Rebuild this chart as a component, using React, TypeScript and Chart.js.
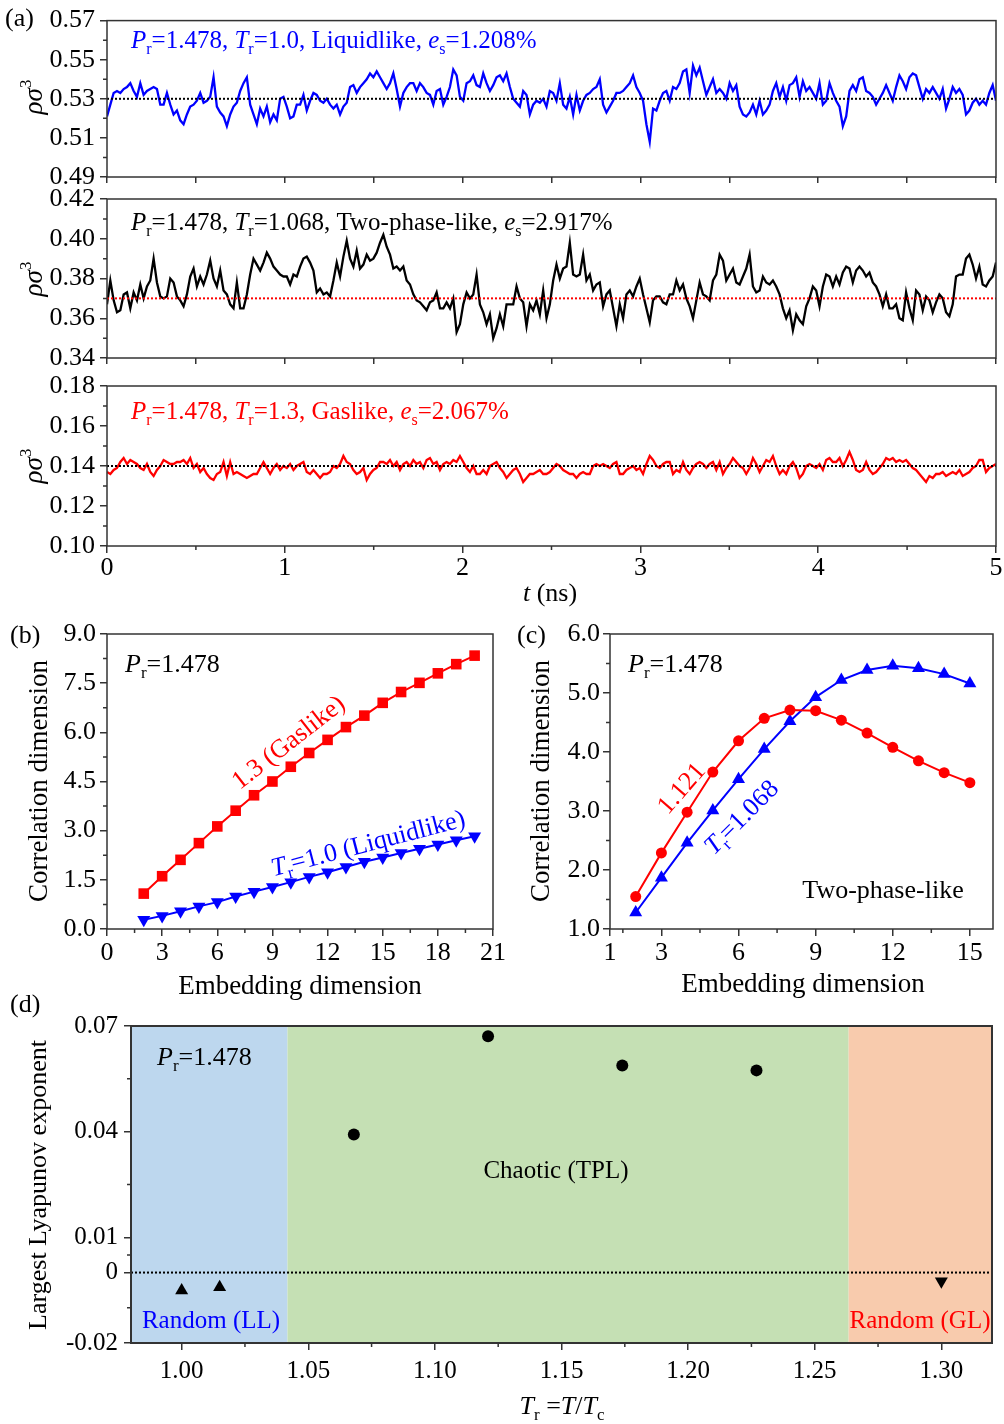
import { useEffect, useRef } from "react";
import { Chart, registerables } from "chart.js";
Chart.register(...registerables);

const W = 1004;
const H = 1424;
const SERIF = '"Liberation Serif", "Times New Roman", Times, serif';
const AXIS = "#333333";
const BLUE = "#0000ff";
const RED = "#ff0000";
const BLACK = "#000000";

// ---------- (a) density time series, t from 0 to 5 ns ----------
const T_END = 5;
const liquidRho = [
  0.521,0.527,0.533,0.534,0.533,0.535,0.536,0.538,0.534,0.531,
  0.538,0.532,0.534,0.535,0.536,0.535,0.527,0.527,0.533,0.527,
  0.522,0.524,0.519,0.517,0.522,0.526,0.527,0.529,0.533,0.528,
  0.529,0.531,0.541,0.526,0.523,0.521,0.516,0.522,0.526,0.528,
  0.534,0.538,0.541,0.527,0.522,0.517,0.525,0.521,0.526,0.518,
  0.522,0.519,0.530,0.531,0.526,0.520,0.521,0.527,0.527,0.532,
  0.524,0.529,0.533,0.532,0.529,0.528,0.530,0.527,0.525,0.527,
  0.522,0.526,0.528,0.536,0.537,0.533,0.536,0.538,0.540,0.543,
  0.541,0.544,0.541,0.538,0.535,0.538,0.543,0.535,0.526,0.533,
  0.536,0.538,0.538,0.534,0.538,0.536,0.533,0.532,0.527,0.534,
  0.535,0.527,0.531,0.536,0.545,0.542,0.531,0.529,0.538,0.539,
  0.542,0.537,0.536,0.543,0.538,0.534,0.537,0.541,0.542,0.539,
  0.543,0.536,0.530,0.528,0.526,0.534,0.532,0.522,0.527,0.529,
  0.528,0.530,0.526,0.534,
  0.533,0.529,0.538,0.527,0.525,0.531,0.522,0.532,0.524,0.529,
  0.532,0.533,0.535,0.536,0.540,0.527,0.523,0.526,0.529,0.533,
  0.533,0.534,0.536,0.538,0.542,0.536,0.533,0.529,0.517,0.508,
  0.525,0.524,0.529,0.533,0.534,0.529,0.536,0.535,0.538,0.544,
  0.545,0.533,0.547,0.542,0.546,0.539,0.532,0.536,0.540,0.533,
  0.535,0.533,0.530,0.538,0.534,0.537,0.526,0.522,0.521,0.523,
  0.527,0.522,0.529,0.522,0.524,0.527,0.534,0.538,0.531,0.536,
  0.529,0.537,0.538,0.541,0.531,0.539,0.534,0.536,0.533,0.530,
  0.538,0.527,0.529,0.538,0.533,0.529,0.526,0.516,0.521,0.534,
  0.537,0.534,0.540,0.541,0.534,0.533,0.531,0.527,0.530,0.533,
  0.537,0.533,0.529,0.536,0.542,0.539,0.535,0.541,0.543,0.542,
  0.536,0.530,0.535,0.533,0.536,0.533,0.530,0.535,0.525,0.530,
  0.536,0.533,0.535,0.532,0.522,0.524,0.528,0.530,0.527,0.529,
  0.527,0.533,0.537,0.529,
];
const twoPhaseRho = [
  0.367,0.379,0.369,0.363,0.364,0.372,0.373,0.365,0.373,0.369,
  0.377,0.370,0.376,0.379,0.390,0.378,0.371,0.370,0.371,0.380,
  0.378,0.371,0.369,0.366,0.372,0.381,0.385,0.376,0.381,0.377,
  0.382,0.389,0.380,0.376,0.384,0.374,0.372,0.367,0.365,0.378,
  0.365,0.365,0.372,0.382,0.390,0.387,0.384,0.388,0.393,0.390,
  0.386,0.384,0.382,0.381,0.381,0.377,0.382,0.381,0.386,0.390,
  0.391,0.388,0.384,0.373,0.375,0.372,0.373,0.371,0.379,0.388,
  0.381,0.391,0.399,0.390,0.386,0.394,0.385,0.387,0.392,0.389,
  0.390,0.393,0.398,0.402,0.396,0.392,0.385,0.386,0.384,0.386,
  0.379,0.377,0.372,0.369,0.368,0.366,0.364,0.368,0.369,0.373,
  0.365,0.365,0.368,0.365,0.370,0.353,0.357,0.367,0.373,0.370,
  0.372,0.382,0.367,0.363,0.357,0.362,0.350,0.355,0.362,0.356,
  0.367,0.367,0.367,0.376,0.370,0.368,0.356,0.367,0.364,0.369,
  0.362,0.374,0.360,0.367,
  0.379,0.387,0.380,0.385,0.386,0.398,0.382,0.381,0.382,0.392,
  0.379,0.382,0.374,0.377,0.378,0.366,0.372,0.374,0.365,0.356,
  0.367,0.360,0.372,0.374,0.371,0.376,0.380,0.372,0.365,0.358,
  0.369,0.371,0.371,0.368,0.367,0.372,0.372,0.379,0.374,0.377,
  0.370,0.366,0.360,0.369,0.378,0.372,0.371,0.369,0.379,0.382,
  0.392,0.389,0.379,0.382,0.385,0.378,0.377,0.381,0.385,0.392,
  0.376,0.373,0.374,0.381,0.378,0.377,0.379,0.376,0.372,0.365,
  0.360,0.364,0.354,0.362,0.359,0.357,0.366,0.370,0.376,0.374,
  0.366,0.376,0.382,0.381,0.376,0.381,0.377,0.383,0.386,0.385,
  0.378,0.384,0.386,0.384,0.381,0.383,0.378,0.376,0.372,0.366,
  0.372,0.365,0.365,0.367,0.360,0.359,0.373,0.365,0.359,0.374,
  0.372,0.364,0.371,0.369,0.363,0.368,0.372,0.370,0.363,0.361,
  0.367,0.381,0.382,0.382,0.390,0.392,0.387,0.380,0.386,0.377,
  0.376,0.379,0.381,0.388,
];
const gasRho = [
  0.137,0.136,0.138,0.139,0.142,0.144,0.141,0.143,0.142,0.141,
  0.139,0.138,0.141,0.137,0.135,0.138,0.140,0.143,0.142,0.141,
  0.141,0.142,0.142,0.143,0.141,0.144,0.139,0.141,0.137,0.139,
  0.136,0.134,0.133,0.136,0.137,0.142,0.135,0.142,0.136,0.137,
  0.136,0.135,0.134,0.135,0.136,0.136,0.139,0.142,0.139,0.136,
  0.139,0.141,0.138,0.140,0.139,0.141,0.138,0.140,0.141,0.142,
  0.137,0.136,0.138,0.136,0.134,0.136,0.136,0.137,0.140,0.139,
  0.141,0.145,0.142,0.141,0.138,0.136,0.137,0.139,0.133,0.136,
  0.138,0.139,0.142,0.142,0.141,0.143,0.140,0.142,0.138,0.141,
  0.142,0.140,0.143,0.141,0.142,0.139,0.143,0.144,0.141,0.142,
  0.138,0.141,0.142,0.141,0.143,0.142,0.145,0.142,0.139,0.137,
  0.140,0.136,0.136,0.138,0.136,0.140,0.141,0.142,0.139,0.137,
  0.134,0.136,0.138,0.139,0.136,0.132,0.134,0.136,0.136,0.137,
  0.138,0.136,0.136,0.137,
  0.139,0.141,0.140,0.138,0.137,0.136,0.136,0.134,0.136,0.137,
  0.136,0.136,0.140,0.141,0.140,0.141,0.140,0.139,0.141,0.142,
  0.136,0.136,0.138,0.139,0.140,0.138,0.139,0.136,0.141,0.145,
  0.143,0.140,0.139,0.141,0.142,0.142,0.136,0.138,0.137,0.142,
  0.138,0.136,0.139,0.141,0.142,0.141,0.139,0.141,0.142,0.138,
  0.142,0.136,0.139,0.141,0.144,0.142,0.140,0.139,0.136,0.139,
  0.144,0.141,0.137,0.140,0.143,0.142,0.145,0.140,0.136,0.138,
  0.136,0.140,0.142,0.139,0.134,0.136,0.140,0.141,0.140,0.139,
  0.141,0.138,0.143,0.144,0.142,0.142,0.144,0.140,0.143,0.147,
  0.143,0.138,0.137,0.138,0.142,0.138,0.136,0.137,0.139,0.141,
  0.144,0.143,0.144,0.142,0.143,0.142,0.143,0.141,0.139,0.138,
  0.136,0.134,0.132,0.135,0.134,0.136,0.136,0.137,0.135,0.136,
  0.137,0.136,0.138,0.135,0.136,0.137,0.139,0.140,0.143,0.143,
  0.137,0.139,0.140,0.141,
];
const liquidMean = 0.53;
const twoPhaseMean = 0.37;
const gasMean = 0.14;

const rhoTicksLiquid = [0.49, 0.51, 0.53, 0.55, 0.57];
const rhoMinorLiquid = [0.5, 0.52, 0.54, 0.56];
const rhoTicksTwoPhase = [0.34, 0.36, 0.38, 0.4, 0.42];
const rhoMinorTwoPhase = [0.35, 0.37, 0.39, 0.41];
const rhoTicksGas = [0.1, 0.12, 0.14, 0.16, 0.18];
const rhoMinorGas = [0.11, 0.13, 0.15, 0.17];
const timeTicks = [0, 1, 2, 3, 4, 5];
const timeHalfTicks = [0, 0.5, 1, 1.5, 2, 2.5, 3, 3.5, 4, 4.5, 5];
const timeMinor = [0.5, 1.5, 2.5, 3.5, 4.5];

// ---------- (b) correlation dimension ----------
const embedB = [2, 3, 4, 5, 6, 7, 8, 9, 10, 11, 12, 13, 14, 15, 16, 17, 18, 19, 20];
const gasCorrDim = [1.08, 1.61, 2.11, 2.62, 3.13, 3.61, 4.08, 4.5, 4.95, 5.37, 5.77, 6.16, 6.51, 6.9, 7.23, 7.51, 7.8, 8.08, 8.34];
const liquidCorrDim = [0.28, 0.4, 0.54, 0.69, 0.82, 0.99, 1.14, 1.28, 1.43, 1.59, 1.73, 1.89, 2.05, 2.18, 2.32, 2.45, 2.58, 2.71, 2.83];
const embedTicksB = [0, 3, 6, 9, 12, 15, 18, 21];
const embedMinorB = [1.5, 4.5, 7.5, 10.5, 13.5, 16.5, 19.5];
const corrTicksB = [0, 1.5, 3, 4.5, 6, 7.5, 9];
const corrMinorB = [0.75, 2.25, 3.75, 5.25, 6.75, 8.25];

// ---------- (c) correlation dimension, two-phase-like ----------
const embedC = [2, 3, 4, 5, 6, 7, 8, 9, 10, 11, 12, 13, 14, 15];
const corrDim1121 = [1.55, 2.29, 2.98, 3.66, 4.19, 4.57, 4.71, 4.7, 4.54, 4.32, 4.08, 3.85, 3.65, 3.48];
const corrDim1068 = [1.28, 1.87, 2.46, 3.01, 3.54, 4.05, 4.52, 4.93, 5.22, 5.39, 5.46, 5.42, 5.32, 5.16];
const embedTicksC = [1, 3, 6, 9, 12, 15];
const embedMinorC = [1.5, 4.5, 7.5, 10.5, 13.5];
const corrTicksC = [1, 2, 3, 4, 5, 6];
const corrMinorC = [1.5, 2.5, 3.5, 4.5, 5.5];

// ---------- (d) largest Lyapunov exponent ----------
const trChaotic = [1.068, 1.121, 1.174, 1.227];
const lyapChaotic = [0.0392, 0.0671, 0.0588, 0.0574];
const trLiquid = [1.0, 1.015];
const lyapLiquid = [-0.0051, -0.0042];
const trGas = [1.3];
const lyapGas = [-0.0025];
const regionEdges = [0.98, 1.0418, 1.2634, 1.32];
const regionColors = ["#bdd7ee", "#c5e0b4", "#f8cbad"];
const trTicks = [1.0, 1.05, 1.1, 1.15, 1.2, 1.25, 1.3];
const trMinor = [1.025, 1.075, 1.125, 1.175, 1.225, 1.275];
const lyapTicks = [-0.02, 0, 0.01, 0.04, 0.07];
const lyapMinor = [-0.01, 0.005, 0.025, 0.055];

// ---------- helpers ----------
type Seg = { t: string; i?: boolean; sub?: boolean; sup?: boolean };
type TextItem = {
  segs: Seg[];
  x: number;
  y: number;
  size: number;
  color?: string;
  align?: "left" | "center" | "right";
  angle?: number;
  mid?: boolean;
};

function drawRich(ctx: CanvasRenderingContext2D, it: TextItem) {
  const size = it.size;
  const small = Math.round(size * 0.64);
  const fontOf = (s: Seg) => `${s.i ? "italic " : ""}${s.sub || s.sup ? small : size}px ${SERIF}`;
  ctx.save();
  ctx.translate(it.x, it.y);
  if (it.angle) ctx.rotate((-it.angle * Math.PI) / 180);
  ctx.fillStyle = it.color ?? BLACK;
  ctx.textBaseline = "alphabetic";
  ctx.textAlign = "left";
  const widths = it.segs.map((s) => {
    ctx.font = fontOf(s);
    return ctx.measureText(s.t).width;
  });
  const total = widths.reduce((a, b) => a + b, 0);
  let cx = it.align === "center" ? -total / 2 : it.align === "right" ? -total : 0;
  const base = it.mid ? size * 0.32 : 0;
  it.segs.forEach((s, k) => {
    ctx.font = fontOf(s);
    const dy = s.sub ? size * 0.24 : s.sup ? -size * 0.4 : 0;
    ctx.fillText(s.t, cx, base + dy);
    cx += widths[k];
  });
  ctx.restore();
}

type AxisSpec = {
  min: number;
  max: number;
  ticks: number[];
  minor: number[];
  labels: boolean;
  fmt?: (v: number) => string;
  size?: number;
  pad?: number;
};
type PanelSpec = {
  box: { l: number; t: number; r: number; b: number };
  x: AxisSpec;
  y: AxisSpec;
  datasets: any[];
  texts: TextItem[];
  bands?: { from: number; to: number; color: string }[];
  frame?: number;
};

const series = (vals: number[]) => vals.map((v, i) => ({ x: (i * T_END) / (vals.length - 1), y: v }));
const pairs = (xs: number[], ys: number[]) => xs.map((x, i) => ({ x, y: ys[i] }));
const hline = (y: number, x0: number, x1: number) => [
  { x: x0, y },
  { x: x1, y },
];

const lineSet = (data: any[], color: string) => ({
  data,
  borderColor: color,
  borderWidth: 2.3,
  pointRadius: 0,
  fill: false,
  order: 2,
});
const dotSet = (data: any[], color: string) => ({
  data,
  borderColor: color,
  borderWidth: 2,
  borderDash: [2, 2],
  pointRadius: 0,
  fill: false,
  order: 1,
});

const PR = (x: number, y: number, size: number): TextItem => ({
  segs: [{ t: "P", i: true }, { t: "r", sub: true }, { t: "=1.478" }],
  x,
  y,
  size,
});

const rhoTitle = (cy: number): TextItem => ({
  segs: [{ t: "ρσ", i: true }, { t: "3", sup: true }],
  x: 33,
  y: cy,
  size: 27,
  align: "center",
  angle: 90,
  mid: true,
});

const f2 = (v: number) => v.toFixed(2);
const f1 = (v: number) => v.toFixed(1);
const f0 = (v: number) => String(Math.round(v));

const PANELS: PanelSpec[] = [
  {
    box: { l: 107, t: 18, r: 996, b: 177 },
    x: { min: 0, max: T_END, ticks: timeHalfTicks, minor: [], labels: false },
    y: { min: 0.49, max: 0.57, ticks: rhoTicksLiquid, minor: rhoMinorLiquid, labels: true, fmt: f2, size: 26, pad: 5 },
    datasets: [lineSet(series(liquidRho), BLUE), dotSet(hline(liquidMean, 0, T_END), BLACK)],
    texts: [
      { segs: [{ t: "(a)" }], x: 5, y: 26, size: 26 },
      {
        segs: [
          { t: "P", i: true }, { t: "r", sub: true }, { t: "=1.478, " },
          { t: "T", i: true }, { t: "r", sub: true }, { t: "=1.0, Liquidlike, " },
          { t: "e", i: true }, { t: "s", sub: true }, { t: "=1.208%" },
        ],
        x: 131, y: 48, size: 25, color: BLUE,
      },
      rhoTitle(97),
    ],
  },
  {
    box: { l: 107, t: 199, r: 996, b: 358 },
    x: { min: 0, max: T_END, ticks: timeHalfTicks, minor: [], labels: false },
    y: { min: 0.34, max: 0.42, ticks: rhoTicksTwoPhase, minor: rhoMinorTwoPhase, labels: true, fmt: f2, size: 26, pad: 5 },
    datasets: [lineSet(series(twoPhaseRho), BLACK), dotSet(hline(twoPhaseMean, 0, T_END), RED)],
    texts: [
      {
        segs: [
          { t: "P", i: true }, { t: "r", sub: true }, { t: "=1.478, " },
          { t: "T", i: true }, { t: "r", sub: true }, { t: "=1.068, Two-phase-like, " },
          { t: "e", i: true }, { t: "s", sub: true }, { t: "=2.917%" },
        ],
        x: 131, y: 230, size: 25, color: BLACK,
      },
      rhoTitle(279),
    ],
  },
  {
    box: { l: 107, t: 386, r: 996, b: 546 },
    x: { min: 0, max: T_END, ticks: timeTicks, minor: timeMinor, labels: true, fmt: f0, size: 26, pad: 0 },
    y: { min: 0.1, max: 0.18, ticks: rhoTicksGas, minor: rhoMinorGas, labels: true, fmt: f2, size: 26, pad: 5 },
    datasets: [lineSet(series(gasRho), RED), dotSet(hline(gasMean, 0, T_END), BLACK)],
    texts: [
      {
        segs: [
          { t: "P", i: true }, { t: "r", sub: true }, { t: "=1.478, " },
          { t: "T", i: true }, { t: "r", sub: true }, { t: "=1.3, Gaslike, " },
          { t: "e", i: true }, { t: "s", sub: true }, { t: "=2.067%" },
        ],
        x: 131, y: 419, size: 25, color: RED,
      },
      rhoTitle(466),
      { segs: [{ t: "t", i: true }, { t: " (ns)" }], x: 550, y: 601, size: 26, align: "center" },
    ],
  },
  {
    box: { l: 107, t: 634, r: 493, b: 929 },
    x: { min: 0, max: 21, ticks: embedTicksB, minor: embedMinorB, labels: true, fmt: f0, size: 26, pad: 2 },
    y: { min: 0, max: 9, ticks: corrTicksB, minor: corrMinorB, labels: true, fmt: f1, size: 26, pad: 4 },
    datasets: [
      {
        data: pairs(embedB, gasCorrDim),
        borderColor: RED, borderWidth: 2, pointStyle: "rect", pointRadius: 7.5,
        pointBackgroundColor: RED, pointBorderColor: RED, pointBorderWidth: 0,
      },
      {
        data: pairs(embedB, liquidCorrDim),
        borderColor: BLUE, borderWidth: 2, pointStyle: "triangle", pointRotation: 180, pointRadius: 7.5,
        pointBackgroundColor: BLUE, pointBorderColor: BLUE, pointBorderWidth: 0,
      },
    ],
    texts: [
      { segs: [{ t: "(b)" }], x: 10, y: 643, size: 26 },
      PR(125, 672, 26),
      { segs: [{ t: "1.3 (Gaslike)" }], x: 288, y: 742, size: 26, color: RED, align: "center", angle: 38, mid: true },
      {
        segs: [{ t: "T", i: true }, { t: "r", sub: true }, { t: "=1.0 (Liquidlike)" }],
        x: 368, y: 843, size: 26, color: BLUE, align: "center", angle: 14.6, mid: true,
      },
      { segs: [{ t: "Embedding dimension" }], x: 300, y: 994, size: 27, align: "center" },
      { segs: [{ t: "Correlation dimension" }], x: 38, y: 781, size: 27, align: "center", angle: 90, mid: true },
    ],
  },
  {
    box: { l: 610, t: 634, r: 993, b: 929 },
    x: { min: 1, max: 15.9, ticks: embedTicksC, minor: embedMinorC, labels: true, fmt: f0, size: 26, pad: 2 },
    y: { min: 1, max: 6, ticks: corrTicksC, minor: corrMinorC, labels: true, fmt: f1, size: 26, pad: 3 },
    datasets: [
      {
        data: pairs(embedC, corrDim1121),
        borderColor: RED, borderWidth: 2, pointStyle: "circle", pointRadius: 5.5,
        pointBackgroundColor: RED, pointBorderColor: RED, pointBorderWidth: 0,
      },
      {
        data: pairs(embedC, corrDim1068),
        borderColor: BLUE, borderWidth: 2, pointStyle: "triangle", pointRadius: 7.5,
        pointBackgroundColor: BLUE, pointBorderColor: BLUE, pointBorderWidth: 0,
      },
    ],
    texts: [
      { segs: [{ t: "(c)" }], x: 517, y: 643, size: 26 },
      PR(628, 672, 26),
      { segs: [{ t: "Two-phase-like" }], x: 883, y: 898, size: 26, align: "center" },
      { segs: [{ t: "1.121" }], x: 681, y: 788, size: 26, color: RED, align: "center", angle: 49, mid: true },
      {
        segs: [{ t: "T", i: true }, { t: "r", sub: true }, { t: "=1.068" }],
        x: 741, y: 817, size: 26, color: BLUE, align: "center", angle: 45, mid: true,
      },
      { segs: [{ t: "Embedding dimension" }], x: 803, y: 992, size: 27, align: "center" },
      { segs: [{ t: "Correlation dimension" }], x: 540, y: 781, size: 27, align: "center", angle: 90, mid: true },
    ],
  },
  {
    box: { l: 131, t: 1026, r: 992, b: 1343 },
    x: { min: 0.98, max: 1.32, ticks: trTicks, minor: trMinor, labels: true, fmt: f2, size: 25, pad: 6 },
    y: {
      min: -0.02, max: 0.07, ticks: lyapTicks, minor: lyapMinor, labels: true,
      fmt: (v) => (Math.abs(v) < 1e-9 ? "0" : v.toFixed(2)), size: 25, pad: 6,
    },
    bands: [
      { from: regionEdges[0], to: regionEdges[1], color: regionColors[0] },
      { from: regionEdges[1], to: regionEdges[2], color: regionColors[1] },
      { from: regionEdges[2], to: regionEdges[3], color: regionColors[2] },
    ],
    frame: 2,
    datasets: [
      dotSet(hline(0, 0.98, 1.32), BLACK),
      {
        data: pairs(trChaotic, lyapChaotic), showLine: false, pointStyle: "circle", pointRadius: 6,
        pointBackgroundColor: BLACK, pointBorderColor: BLACK, pointBorderWidth: 0, order: 0,
      },
      {
        data: pairs(trLiquid, lyapLiquid), showLine: false, pointStyle: "triangle", pointRadius: 7.5,
        pointBackgroundColor: BLACK, pointBorderColor: BLACK, pointBorderWidth: 0, order: 0,
      },
      {
        data: pairs(trGas, lyapGas), showLine: false, pointStyle: "triangle", pointRotation: 180, pointRadius: 7.5,
        pointBackgroundColor: BLACK, pointBorderColor: BLACK, pointBorderWidth: 0, order: 0,
      },
    ],
    texts: [
      { segs: [{ t: "(d)" }], x: 10, y: 1012, size: 26 },
      PR(157, 1065, 26),
      { segs: [{ t: "Chaotic (TPL)" }], x: 556, y: 1178, size: 25, align: "center" },
      { segs: [{ t: "Random (LL)" }], x: 211, y: 1328, size: 25, align: "center", color: BLUE },
      { segs: [{ t: "Random (GL)" }], x: 920, y: 1328, size: 25, align: "center", color: RED },
      {
        segs: [
          { t: "T", i: true }, { t: "r", sub: true }, { t: " =" },
          { t: "T", i: true }, { t: "/" }, { t: "T", i: true }, { t: "c", sub: true },
        ],
        x: 562, y: 1414, size: 26, align: "center",
      },
      { segs: [{ t: "Largest Lyapunov exponent" }], x: 38, y: 1185, size: 26, align: "center", angle: 90, mid: true },
    ],
  },
];

function decorPlugin(p: PanelSpec) {
  return {
    id: "decor",
    beforeDatasetsDraw(chart: any) {
      if (!p.bands) return;
      const { ctx, chartArea: a, scales } = chart;
      ctx.save();
      p.bands.forEach((b) => {
        const x0 = scales.x.getPixelForValue(b.from);
        const x1 = scales.x.getPixelForValue(b.to);
        ctx.fillStyle = b.color;
        ctx.fillRect(x0, a.top, x1 - x0, a.bottom - a.top);
      });
      ctx.restore();
    },
    afterDraw(chart: any) {
      const { ctx, chartArea: a, scales } = chart;
      ctx.save();
      ctx.strokeStyle = AXIS;
      ctx.lineWidth = 1.5;
      ctx.beginPath();
      p.x.minor.forEach((v) => {
        const px = scales.x.getPixelForValue(v);
        ctx.moveTo(px, a.bottom);
        ctx.lineTo(px, a.bottom + 4);
      });
      p.y.minor.forEach((v) => {
        const py = scales.y.getPixelForValue(v);
        ctx.moveTo(a.left, py);
        ctx.lineTo(a.left - 4, py);
      });
      ctx.stroke();
      ctx.lineWidth = p.frame ?? 1.5;
      ctx.strokeRect(a.left, a.top, a.right - a.left, a.bottom - a.top);
      ctx.restore();
      p.texts.forEach((t) => drawRich(ctx, t));
    },
  };
}

function axisOptions(ax: AxisSpec, isX: boolean, box: PanelSpec["box"]) {
  return {
    type: "linear",
    position: isX ? "bottom" : "left",
    min: ax.min,
    max: ax.max,
    afterBuildTicks: (s: any) => {
      s.ticks = ax.ticks.map((v) => ({ value: v }));
    },
    afterFit: (s: any) => {
      if (isX) s.height = H - box.b;
      else s.width = box.l;
    },
    grid: {
      display: true,
      drawOnChartArea: false,
      drawTicks: true,
      tickLength: isX && !ax.labels ? 6 : 7,
      color: AXIS,
      lineWidth: 1.5,
    },
    border: { display: false },
    ticks: {
      display: ax.labels,
      autoSkip: false,
      maxRotation: 0,
      minRotation: 0,
      color: BLACK,
      padding: ax.pad ?? 3,
      font: { family: SERIF, size: ax.size ?? 26 },
      callback: (v: any) => (ax.fmt ? ax.fmt(Number(v)) : String(v)),
    },
  };
}

function makeConfig(p: PanelSpec): any {
  return {
    type: "line",
    data: { datasets: p.datasets },
    options: {
      responsive: false,
      animation: false,
      devicePixelRatio: 1,
      events: [],
      layout: { padding: { left: 0, top: p.box.t, right: W - p.box.r, bottom: 0 } },
      elements: { line: { tension: 0 } },
      plugins: { legend: { display: false }, tooltip: { enabled: false } },
      scales: {
        x: axisOptions(p.x, true, p.box),
        y: axisOptions(p.y, false, p.box),
      },
    },
    plugins: [decorPlugin(p)],
  };
}

export default function App() {
  const refs = useRef<(HTMLCanvasElement | null)[]>([]);
  useEffect(() => {
    const charts = PANELS.map((p, i) => new Chart(refs.current[i] as HTMLCanvasElement, makeConfig(p)));
    return () => {
      charts.forEach((c) => c.destroy());
    };
  }, []);
  return (
    <div style={{ position: "absolute", left: 0, top: 0, width: W, height: H, background: "#ffffff", overflow: "hidden" }}>
      {PANELS.map((_, i) => (
        <canvas
          key={i}
          ref={(el) => {
            refs.current[i] = el;
          }}
          width={W}
          height={H}
          style={{ position: "absolute", left: 0, top: 0, width: W, height: H }}
        />
      ))}
    </div>
  );
}
